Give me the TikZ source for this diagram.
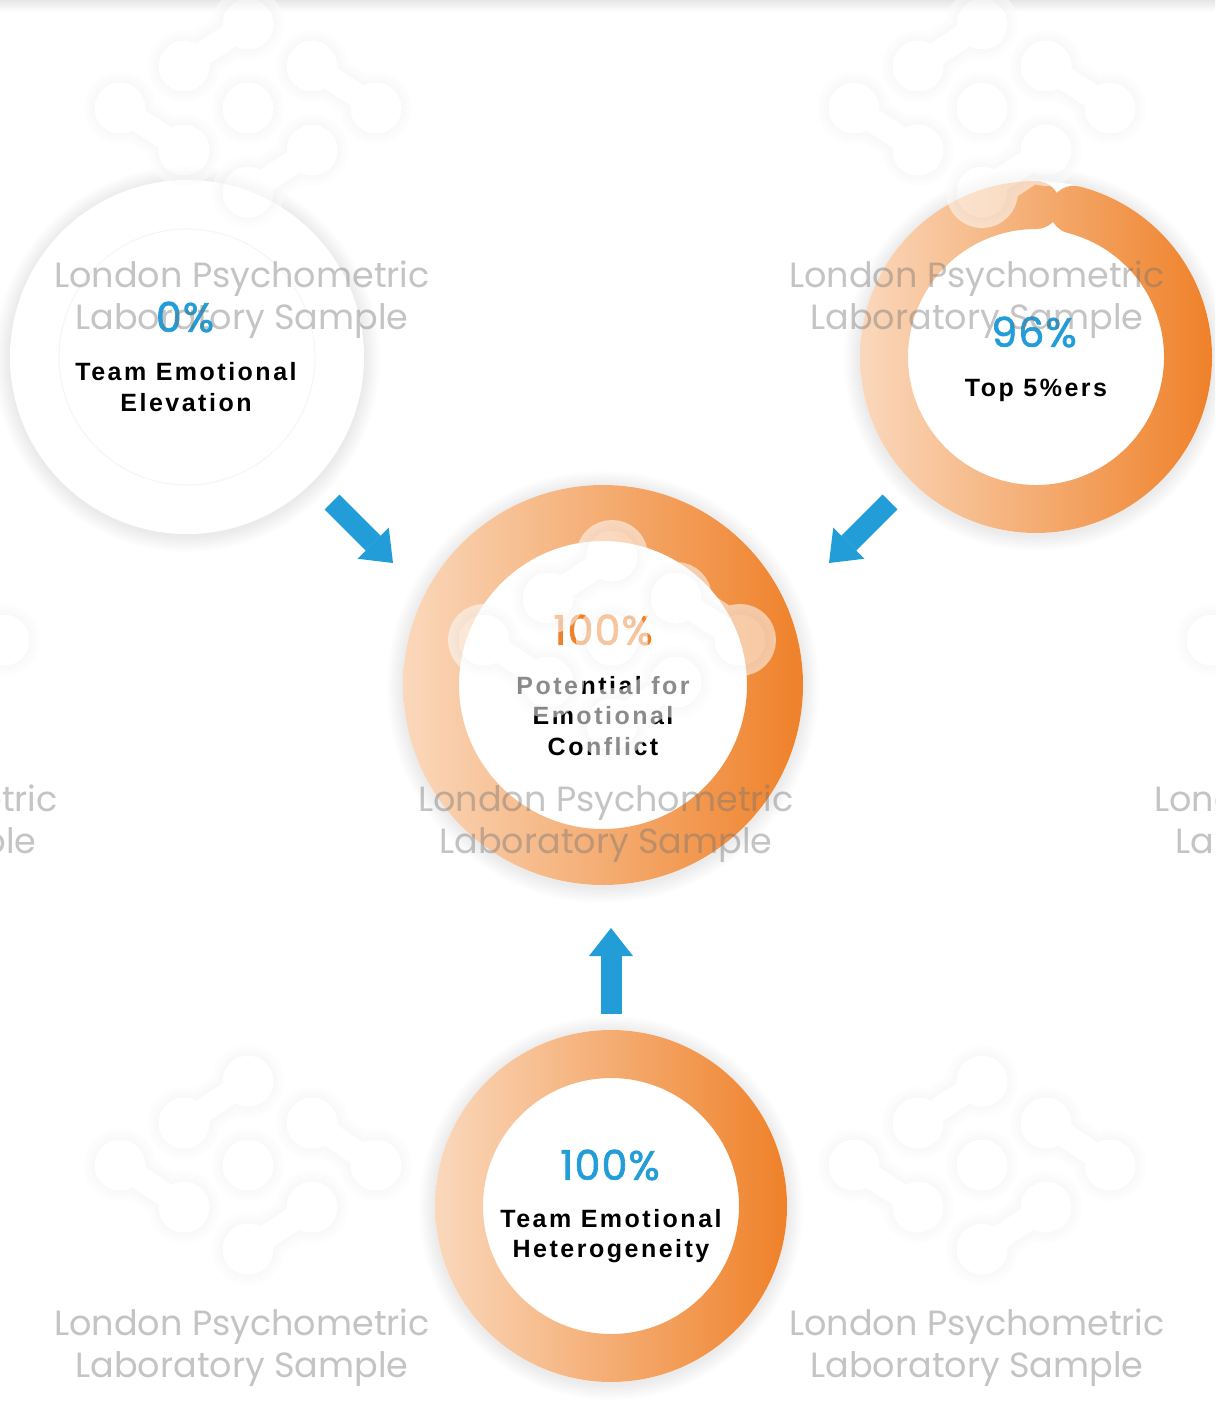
\documentclass[tikz,border=0pt]{standalone}
\usepackage{fontspec}
\setmainfont{Liberation Sans}
\newfontfamily\wmfont{Poppins}
\newfontfamily\pctfont[FakeBold=1.6, LetterSpace=3]{Poppins}
\newfontfamily\lblfont[LetterSpace=10]{Liberation Sans}
\usetikzlibrary{arrows.meta}

\definecolor{ringlight}{HTML}{FAD8BC}
\definecolor{ringdark}{HTML}{EF8129}
\definecolor{arrowblue}{HTML}{229DD8}
\definecolor{pctblue}{HTML}{229DD8}
\definecolor{pctorange}{HTML}{EF8129}

\tikzset{
  wm/.style={font=\wmfont\fontsize{35}{42}\selectfont, text=black!55, opacity=0.42, align=center},
  pct/.style={font=\pctfont\fontsize{41}{42}\selectfont, text=pctblue},
  lbl/.style={font=\lblfont\bfseries\fontsize{25}{30.5}\selectfont, align=center, text=black},
  ringshade/.style={left color=ringlight, right color=ringdark},
  bluearrow/.style={draw=arrowblue, line width=21pt,
    -{Triangle[width=44pt, length=28pt, line width=0pt]}}
}

% soft shadow round a disc
\newcommand{\ringglow}[2]{%
  \foreach \k in {1,...,10}
    \fill[black, opacity=0.006, yshift=-2pt] (#1) circle ({#2+1.6*\k});}

% faint molecule logo behind the text
\newcommand{\moleculelogo}[1]{%
  \begin{scope}[shift={(#1)}, transparency group, opacity=0.55]
    \foreach \lw/\col in {22/black!1, 16/black!2, 10/black!3, 5/black!4, 0/white}{
      \foreach \a/\b in {0/84, -64/42, 64/42, -128/0, 0/0, 128/0, -64/-42, 64/-42, 0/-84}
        \filldraw[\col, line width=\lw pt] (\a,\b) circle (25);
      \draw[\col, line width=24pt+\lw pt] (0,84) -- (-64,42);
      \draw[\col, line width=24pt+\lw pt] (64,42) -- (128,0);
      \draw[\col, line width=24pt+\lw pt] (-128,0) -- (-64,-42);
      \draw[\col, line width=24pt+\lw pt] (64,-42) -- (0,-84);
    }
  \end{scope}}

\begin{document}
\begin{tikzpicture}[x=1pt, y=1pt]
    % 1. Khung
    \useasboundingbox (0,0) rectangle (1215,-1402);
    \clip (0,0) rectangle (1215,-1402);
    \fill[white] (0,0) rectangle (1215,-1402);
    \shade[top color=black!10, bottom color=white] (0,0) rectangle (1215,-12);

    % 2. Bong mo
    \ringglow{187,-357}{177}
    \ringglow{1036,-357}{176}
    \ringglow{603,-685}{200}
    \ringglow{611,-1206}{176}

    % 3. Cac vong tron
    \fill[white] (187,-357) circle (177);
    \draw[black!4, line width=1pt] (187,-357) circle (128);

    \fill[white] (1036,-357) circle (176);
    \shade[ringshade] (1036,-357) ++(90:176)
        arc[start angle=90, end angle=435.6, radius=176]
        arc[start angle=75.6, end angle=255.6, radius=24]
        arc[start angle=435.6, end angle=90, radius=128]
        arc[start angle=270, end angle=450, radius=24] -- cycle;

    \fill[white] (603,-685) circle (200);
    \shade[ringshade, even odd rule] (603,-685) circle (200) (603,-685) circle (144);

    \fill[white] (611,-1206) circle (176);
    \shade[ringshade, even odd rule] (611,-1206) circle (176) (611,-1206) circle (128);

    % 4. Chu trong vong
    \node[pct] (tlpct) at (185,-317) {0\%};
    \node[lbl] (tllbl) at (186,-387) {Team Emotional\\Elevation};

    \node[pct] (trpct) at (1034,-332) {96\%};
    \node[lbl] (trlbl) at (1036,-390) {Top 5\%ers};

    \node[pct, text=pctorange] (cpct) at (603,-630) {100\%};
    \node[lbl] (clbl) at (603,-716) {Potential for\\Emotional\\Conflict};

    \node[pct] (bpct) at (610,-1165) {100\%};
    \node[lbl] (blbl) at (611,-1236) {Team Emotional\\Heterogeneity};

    % 5. Mui ten xanh
    \coordinate (tlA) at (332,-502);
    \coordinate (tlB) at (393,-563);
    \coordinate (trA) at (890,-502);
    \coordinate (trB) at (829,-563);
    \coordinate (bA) at (611,-1014);
    \coordinate (bB) at (611,-928);
    \draw[bluearrow] (tlA) -- (tlB);
    \draw[bluearrow] (trA) -- (trB);
    \draw[bluearrow] (bA) -- (bB);

    % 6. Logo mo
    \moleculelogo{248,-108}
    \moleculelogo{982,-108}
    \moleculelogo{612,-640}
    \moleculelogo{-124,-640}
    \moleculelogo{1340,-640}
    \moleculelogo{248,-1165}
    \moleculelogo{982,-1165}

    % 7. Chu mo
    \node[wm] (wmtl) at (242,-300) {London Psychometric\\Laboratory Sample};
    \node[wm] (wmtr) at (977,-300) {London Psychometric\\Laboratory Sample};
    \node[wm] (wmc) at (606,-824) {London Psychometric\\Laboratory Sample};
    \node[wm] (wml) at (-130,-824) {London Psychometric\\Laboratory Sample};
    \node[wm] (wmr) at (1342,-824) {London Psychometric\\Laboratory Sample};
    \node[wm] (wmbl) at (242,-1348) {London Psychometric\\Laboratory Sample};
    \node[wm] (wmbr) at (977,-1348) {London Psychometric\\Laboratory Sample};
\end{tikzpicture}
\end{document}
